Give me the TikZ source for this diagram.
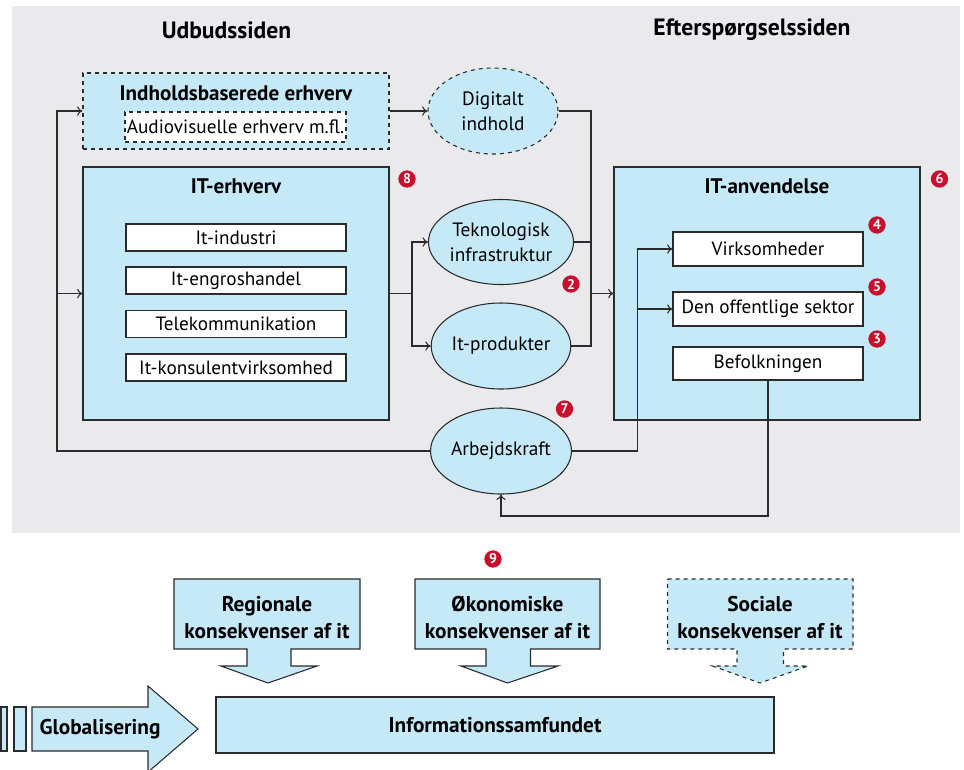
\documentclass[tikz,border=0pt]{standalone}
\usepackage{fontspec}
\setmainfont{PT Sans}
\usetikzlibrary{shapes.geometric,arrows.meta}
\definecolor{bgray}{HTML}{EAEAEC}
\definecolor{lblue}{HTML}{C6E9F8}
\definecolor{lcol}{HTML}{2B2B2B}
\definecolor{bred}{HTML}{C8102E}
\begin{document}
\begin{tikzpicture}[x=0.75pt,y=-0.75pt,
  line width=0.8pt,
  >={To[length=4pt,width=7pt]},
  conn/.style={draw=lcol,line width=0.8pt},
  bigbox/.style={rectangle,draw=lcol,fill=lblue,inner sep=0pt,minimum width=229.5pt,minimum height=189.75pt},
  wbox/.style={rectangle,draw=lcol,fill=white,inner sep=0pt,font=\fontsize{14.4}{16}\selectfont},
  oval/.style={ellipse,draw=lcol,fill=lblue,inner sep=0pt,minimum width=97.5pt,minimum height=64.5pt,align=center,font=\fontsize{14.5}{18.75}\selectfont},
  ttl/.style={font=\bfseries\fontsize{15.8}{17}\selectfont,inner sep=0pt},
  head/.style={font=\bfseries\fontsize{17.7}{19}\selectfont,inner sep=0pt},
  badge/.style={circle,fill=bred,text=white,inner sep=0pt,minimum size=13pt,font=\bfseries\fontsize{10.5}{10.5}\selectfont},
  arrshape/.style={draw=lcol,fill=lblue,line width=0.8pt},
  btxt/.style={align=center,font=\bfseries\fontsize{16}{20.25}\selectfont,inner sep=0pt}
]
\useasboundingbox (0,0) rectangle (964,769);
\fill[bgray] (12,6) rectangle (960,533);

% headings
\node[head] (h1) at (226.5,30) {Udbudssiden};
\node[head] (h2) at (752,30) {Efterspørgselssiden};

% supply side
\node[bigbox,dashed,minimum height=57pt] (indh) at (236,111) {};
\node[ttl] (indht) at (236,93) {Indholdsbaserede erhverv};
\node[wbox,dashed,minimum width=165.75pt,minimum height=22.5pt] (av) at (235.5,127) {Audiovisuelle erhverv m.fl.};

\node[bigbox] (iterh) at (236,293.5) {};
\node[ttl] (iterht) at (236,186) {IT-erhverv};
\node[wbox,minimum width=165pt,minimum height=20.25pt] (b1) at (236,237.5) {It-industri};
\node[wbox,minimum width=165pt,minimum height=20.25pt] (b2) at (236,280.5) {It-engroshandel};
\node[wbox,minimum width=165pt,minimum height=20.25pt] (b3) at (236,324) {Telekommunikation};
\node[wbox,minimum width=165pt,minimum height=20.25pt] (b4) at (236,367.5) {It-konsulentvirksomhed};

% ellipses
\node[oval,dashed] (dig) at (493,111) {Digitalt\\indhold};
\node[oval,minimum height=63.75pt] (tek) at (501,242) {Teknologisk\\infrastruktur};
\node[oval] (prod) at (501,346) {It-produkter};
\node[oval] (arb) at (501,451) {Arbejdskraft};

% demand side
\node[bigbox] (itanv) at (767,293.5) {};
\node[ttl] (itanvt) at (767,186) {IT-anvendelse};
\node[wbox,minimum width=142.5pt,minimum height=25.5pt] (virk) at (768,249) {Virksomheder};
\node[wbox,minimum width=142.5pt,minimum height=25.5pt] (off) at (768,309) {Den offentlige sektor};
\node[wbox,minimum width=142.5pt,minimum height=24.75pt] (bef) at (768,363.5) {Befolkningen};

% junction coordinates
\coordinate (l1) at (57,111);
\coordinate (l2) at (57,293.5);
\coordinate (l3) at (57,451);
\coordinate (j1) at (412,293.5);
\coordinate (j2) at (591,293.5);
\coordinate (j3) at (637.5,249);
\coordinate (j4) at (637.5,309);
\coordinate (j5) at (637.5,451);
\coordinate (bb) at (768,516);

% connectors
\draw[conn,->] (arb.west) -- (l3) -- (l1) -- (indh.west);
\draw[conn,->] (l2) -- (iterh.west);
\draw[conn,->] (indh.east) -- (dig.west);
\draw[conn] (iterh.east) -- (j1);
\draw[conn,->] (j1) |- (tek.west);
\draw[conn,->] (j1) |- (prod.west);
\draw[conn] (dig.east) -| (j2);
\draw[conn] (tek.east) -| (j2);
\draw[conn] (prod.east) -| (j2);
\draw[conn,->] (j2) -- (itanv.west);
\draw[conn,->] (arb.east) -- (j5) -- (j3) -- (virk.west);
\draw[conn,->] (j4) -- (off.west);
\draw[conn,->] (bef.south) -- (bb) -| (arb.south);

% badges
\node[badge] (n8) at (407,179) {8};
\node[badge] (n6) at (939.5,179) {6};
\node[badge] (n4) at (877,225) {4};
\node[badge] (n5) at (877,287) {5};
\node[badge] (n3) at (877,339) {3};
\node[badge] (n2) at (571,284) {2};
\node[badge] (n7) at (564.5,409) {7};
\node[badge] (n9) at (493,559) {9};

% bottom consequence arrows
\draw[arrshape] (174,579) -- (360,579) -- (360,649) -- (291,649) -- (291,666) -- (317,666) -- (268,683) -- (221,666) -- (247,666) -- (247,649) -- (174,649) -- cycle;
\node[btxt] (reg) at (267,618) {Regionale\\konsekvenser af it};
\draw[arrshape] (415,579) -- (600,579) -- (600,649) -- (530.5,649) -- (530.5,666) -- (558,666) -- (507.5,683) -- (461,666) -- (486,666) -- (486,649) -- (415,649) -- cycle;
\node[btxt] (oko) at (507.5,618) {Økonomiske\\konsekvenser af it};
\draw[arrshape,dashed] (667.5,579) -- (853,579) -- (853,649) -- (783.5,649) -- (783.5,666) -- (808,666) -- (760,683) -- (712.5,666) -- (737,666) -- (737,649) -- (667.5,649) -- cycle;
\node[btxt] (soc) at (760,618) {Sociale\\konsekvenser af it};

% information society
\node[rectangle,draw=lcol,fill=lblue,minimum width=418.5pt,minimum height=42pt,inner sep=0pt,font=\bfseries\fontsize{16}{17}\selectfont] (info) at (495,725) {Informationssamfundet};

% globalisation arrow
\draw[arrshape] (1,707) rectangle (7,751);
\draw[arrshape] (14,707) rectangle (26,751);
\draw[arrshape] (32,707) -- (148,707) -- (148,686) -- (198,729) -- (148,772) -- (148,751) -- (32,751) -- cycle;
\node[btxt] (glob) at (100,729) {Globalisering};
\end{tikzpicture}
\end{document}
